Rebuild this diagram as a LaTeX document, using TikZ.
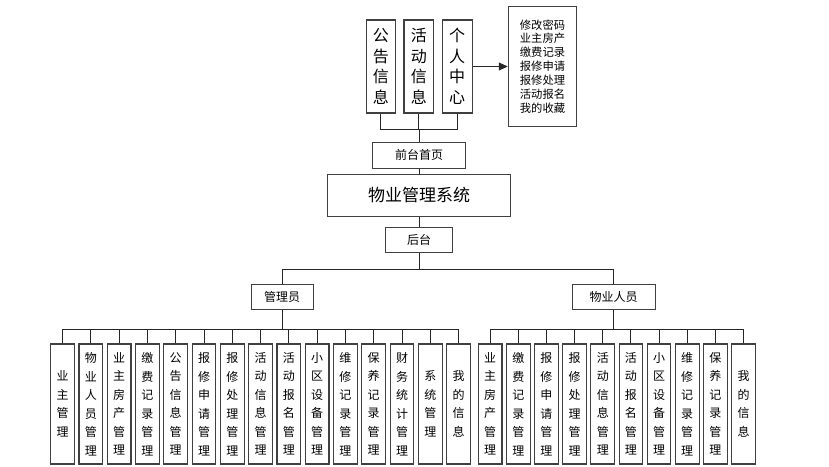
\documentclass[tikz,border=0pt]{standalone}
\usepackage{fontspec}
\setmainfont{Noto Sans CJK SC}
\usetikzlibrary{arrows.meta}
\begin{document}
\begin{tikzpicture}[x=1pt,y=-1pt,
  box/.style={draw=black!75, line width=1.1pt, inner sep=0pt, align=center, fill=white},
  vbox/.style={box, minimum width=23.7, minimum height=120, font=\fontsize{12}{18.5}\selectfont},
  tbox/.style={box, minimum width=29.7, minimum height=93, font=\fontsize{16}{20.5}\selectfont},
  hbox/.style={box, minimum height=25, font=\fontsize{12}{14}\selectfont},
  ln/.style={draw=black!85, line width=0.9pt}]
\useasboundingbox (0,0) rectangle (829,466);
% top
\node[tbox] (gg) at (380.9,66.5) {公\\告\\信\\息};
\node[tbox] (hd) at (418.8,66.5) {活\\动\\信\\息};
\node[tbox] (gr) at (457.2,66.5) {个\\人\\中\\心};
\node[box, minimum width=68.4, minimum height=119.3, font=\fontsize{11.3}{13.9}\selectfont] (rb) at (542.5,66.4) {修改密码\\业主房产\\缴费记录\\报修申请\\报修处理\\活动报名\\我的收藏};
\node[hbox, minimum width=92.6, minimum height=26] (qt) at (419,155.3) {前台首页};
\node[box, minimum width=183.4, minimum height=41.7, font=\fontsize{17}{20}\selectfont] (sys) at (419,195.2) {物业管理系统};
\node[hbox, minimum width=67.4] (ht) at (419,239.8) {后台};
\node[hbox, minimum width=62.3] (gly) at (282.2,296.7) {管理员};
\node[hbox, minimum width=82.7] (wy) at (613.7,296.7) {物业人员};
\coordinate (tb) at (419,129);
\coordinate (mb) at (419,269);
\coordinate (lb) at (0,329);
% connectors top
\draw[ln] (gg.south) -- (gg.south |- tb) -- (gr.south |- tb) -- (gr.south);
\draw[ln] (hd.south) -- (hd.south |- tb);
\draw[ln] (tb) -- (qt.north);
\draw[ln] (qt.south) -- (sys.north);
\draw[ln] (sys.south) -- (ht.north);
\draw[ln] (ht.south) -- (mb);
\draw[ln] (gly.north) -- (gly.north |- mb) -- (wy.north |- mb) -- (wy.north);
\draw[ln, -{Triangle[length=9pt,width=8pt]}] (gr.east) -- (gr.east -| rb.west);
% bottom left
\foreach \t [count=\i] in {{业\\主\\管\\理},{物\\业\\人\\员\\管\\理},{业\\主\\房\\产\\管\\理},{缴\\费\\记\\录\\管\\理},{公\\告\\信\\息\\管\\理},{报\\修\\申\\请\\管\\理},{报\\修\\处\\理\\管\\理},{活\\动\\信\\息\\管\\理},{活\\动\\报\\名\\管\\理},{小\\区\\设\\备\\管\\理},{维\\修\\记\\录\\管\\理},{保\\养\\记\\录\\管\\理},{财\\务\\统\\计\\管\\理},{系\\统\\管\\理},{我\\的\\信\\息}}{
  \node[vbox] (l\i) at ({62.55+28.29*(\i-1)},404) {\t};
  \draw[ln] (l\i.north) -- (l\i.north |- lb);
}
\draw[ln] (l1.north |- lb) -- (l15.north |- lb);
\draw[ln] (gly.south) -- (gly.south |- lb);
% bottom right
\foreach \t [count=\i] in {{业\\主\\房\\产\\管\\理},{缴\\费\\记\\录\\管\\理},{报\\修\\申\\请\\管\\理},{报\\修\\处\\理\\管\\理},{活\\动\\信\\息\\管\\理},{活\\动\\报\\名\\管\\理},{小\\区\\设\\备\\管\\理},{维\\修\\记\\录\\管\\理},{保\\养\\记\\录\\管\\理},{我\\的\\信\\息}}{
  \node[vbox] (r\i) at ({490.15+28.15*(\i-1)},404) {\t};
  \draw[ln] (r\i.north) -- (r\i.north |- lb);
}
\draw[ln] (r1.north |- lb) -- (r10.north |- lb);
\draw[ln] (wy.south) -- (wy.south |- lb);
\end{tikzpicture}
\end{document}
